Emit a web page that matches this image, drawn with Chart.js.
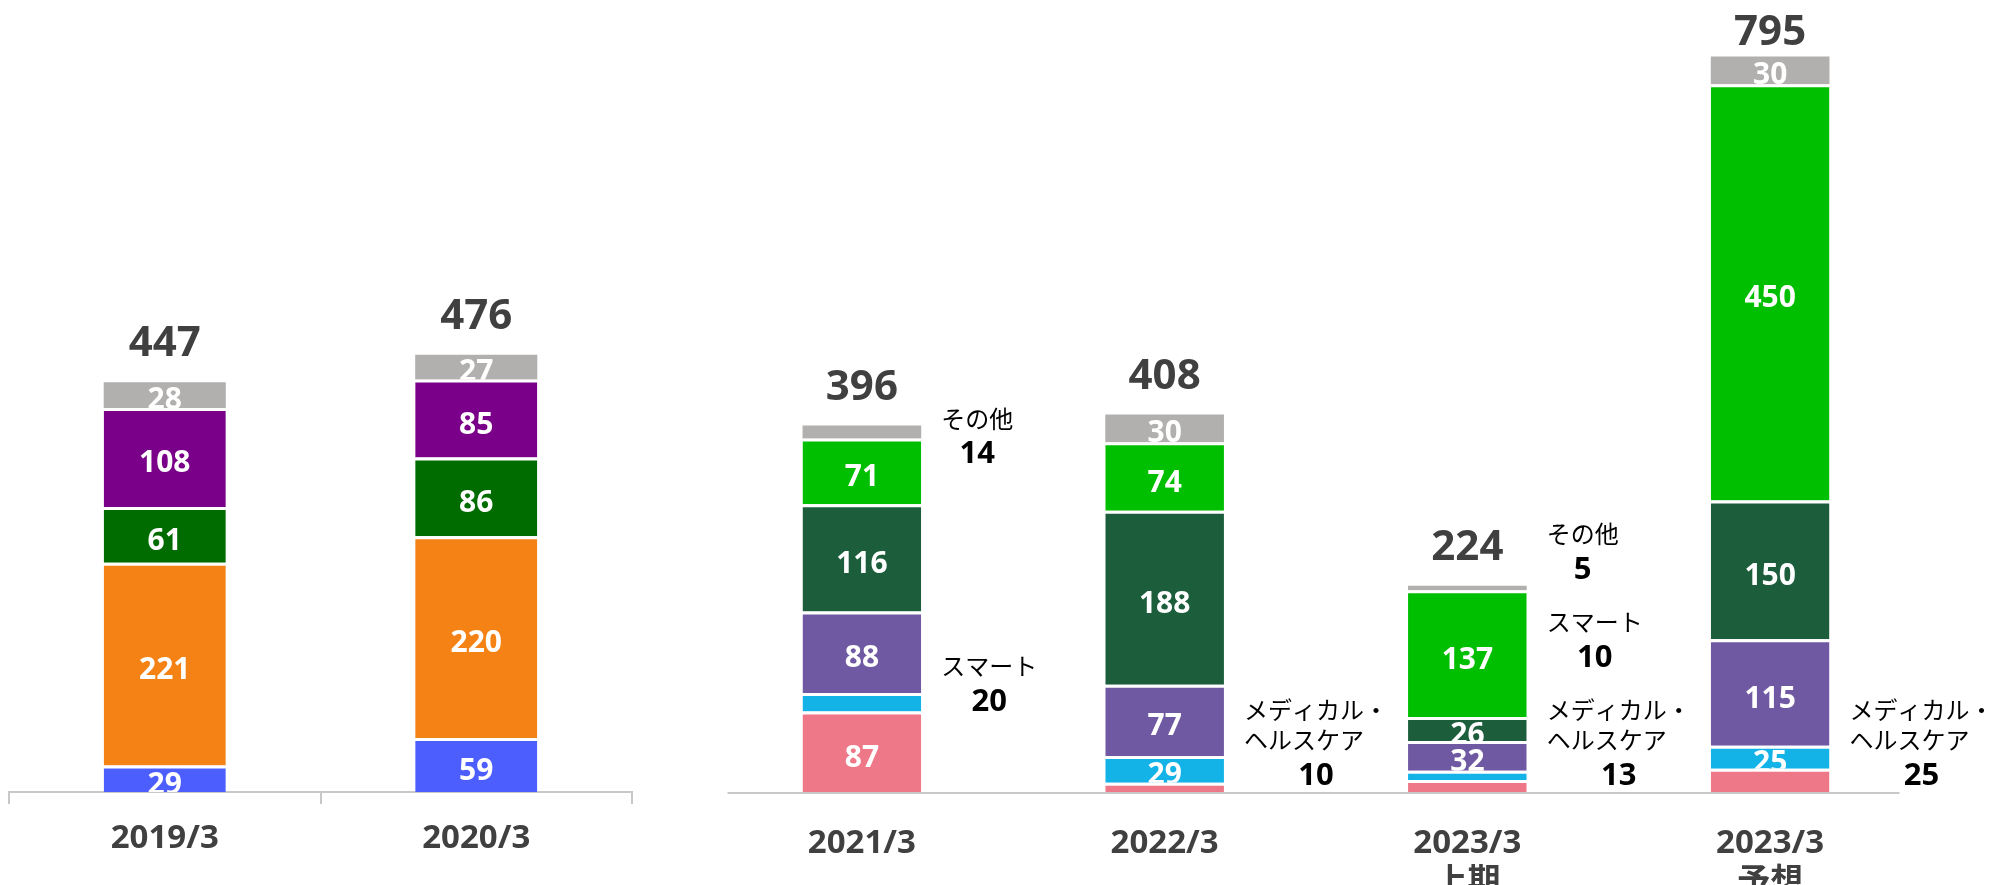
<!DOCTYPE html>
<html lang="ja">
<head>
<meta charset="utf-8">
<script src="https://cdn.jsdelivr.net/npm/chart.js@4.4.0/dist/chart.umd.min.js"></script>
<style>
  html, body { margin: 0; padding: 0; background: #fff; }
  body { width: 1995px; height: 885px; position: relative; overflow: hidden; }
  #left { position: absolute; left: 0; top: 0; }
  #right { position: absolute; left: 660px; top: 0; }
</style>
</head>
<body>
<canvas id="left" width="660" height="885"></canvas>
<canvas id="right" width="1335" height="885"></canvas>
<script>
// 2019/3 - 2020/3 (old segments)
const leftYears = ['2019/3', '2020/3'];
const leftBlue = [29, 59];
const leftOrange = [221, 220];
const leftGreen = [61, 86];
const leftPurple = [108, 85];
const leftOther = [28, 27];
const leftTotals = [447, 476];

// 2021/3 onward (new segments)
const rightYears = [['2021/3'], ['2022/3'], ['2023/3', '上期'], ['2023/3', '予想']];
const medical = [87, 10, 13, 25];
const smart = [20, 29, 10, 25];
const rightPurple = [88, 77, 32, 115];
const rightDarkGreen = [116, 188, 26, 150];
const rightGreen = [71, 74, 137, 450];
const rightOther = [14, 30, 5, 30];
const rightTotals = [396, 408, 224, 795];

// segments that are labelled beside the bar instead of inside it
const medicalOutside = [false, true, true, true];
const smartOutside = [true, false, true, false];
const otherOutside = [true, false, true, false];

const FONT = "'Noto Sans', 'Noto Sans CJK JP', sans-serif";
const JP = "'Noto Sans CJK JP', sans-serif";
const GAP = {top: 3, left: 0, right: 0, bottom: 0};

function seg(label, data, color, extra) {
  return Object.assign({
    label: label,
    data: data,
    backgroundColor: color,
    borderColor: '#fff',
    borderWidth: GAP,
    borderSkipped: false
  }, extra || {});
}

const stackLabels = {
  id: 'stackLabels',
  beforeDatasetsDraw(chart, args, opts) {
    if (!opts.baseline) return;
    const ctx = chart.ctx;
    const a = chart.chartArea;
    const y0 = chart.scales.y.getPixelForValue(0) + 1;
    ctx.save();
    ctx.strokeStyle = '#c8c8c8';
    ctx.lineWidth = 2;
    ctx.beginPath();
    ctx.moveTo(a.left + 17, y0);
    ctx.lineTo(a.right - 22, y0);
    ctx.stroke();
    ctx.restore();
  },
  afterDatasetsDraw(chart, args, opts) {
    const ctx = chart.ctx;
    const metas = chart.getSortedVisibleDatasetMetas();
    const n = chart.data.labels.length;
    ctx.save();

    // values inside the segments
    metas.forEach(meta => {
      const ds = chart.data.datasets[meta.index];
      const bw = (ds.borderWidth && ds.borderWidth.top) || 0;
      meta.data.forEach((bar, i) => {
        if (ds.outside && ds.outside[i]) return;
        const top = bar.y + bw, bottom = bar.base;
        if (bottom - top < 2) return;
        ctx.save();
        ctx.beginPath();
        ctx.rect(bar.x - bar.width / 2, top, bar.width, bottom - top);
        ctx.clip();
        ctx.fillStyle = '#fff';
        ctx.font = 'bold 30px ' + FONT;
        ctx.textAlign = 'center';
        ctx.textBaseline = 'middle';
        ctx.fillText(ds.data[i], bar.x, (top + bottom) / 2 + 5);
        ctx.restore();
      });
    });

    // totals above the stacks
    for (let i = 0; i < n; i++) {
      let top = Infinity, x = 0;
      metas.forEach(meta => {
        const bar = meta.data[i];
        if (bar.y < top) { top = bar.y; x = bar.x; }
      });
      const gap = Math.min(26, top - 45);
      ctx.fillStyle = '#404040';
      ctx.font = 'bold 42px ' + FONT;
      ctx.textAlign = 'center';
      ctx.textBaseline = 'alphabetic';
      ctx.fillText(opts.totals[i], x, top - gap);
    }

    // callouts beside the bars, stacked upwards from the axis
    const axisY = chart.scales.y.getPixelForValue(0);
    const lastIndex = metas.length - 1;
    for (let i = 0; i < n; i++) {
      let limit = axisY - 16;
      metas.forEach((meta, m) => {
        const ds = chart.data.datasets[meta.index];
        if (!ds.outside || !ds.outside[i]) return;
        const bar = meta.data[i];
        // the top segment's callout hangs just below it, the others sit level with it
        const anchor = m === lastIndex ? bar.base + 16 : (bar.y + bar.base) / 2;
        const vy = Math.min(anchor, limit);
        const names = ds.calloutName;
        ctx.font = '24px ' + JP;
        const w = Math.max(...names.map(s => ctx.measureText(s).width));
        const left = bar.x + bar.width / 2 + 20;
        ctx.fillStyle = '#000';
        ctx.textAlign = 'left';
        ctx.textBaseline = 'middle';
        names.forEach((s, k) => {
          ctx.fillText(s, left, vy - 36 - (names.length - 1 - k) * 30);
        });
        ctx.font = 'bold 31px ' + FONT;
        ctx.textAlign = 'center';
        ctx.fillText(ds.data[i], left + w / 2, vy);
        limit = vy - 36 - (names.length - 1) * 30 - 52;
      });
    }
    ctx.restore();
  }
};

function baseOptions(max, padding, totals, xExtra, baseline) {
  return {
    responsive: false,
    animation: false,
    layout: { padding: padding },
    plugins: {
      legend: { display: false },
      tooltip: { enabled: false },
      stackLabels: { totals: totals, baseline: baseline }
    },
    datasets: {
      bar: { barPercentage: 0.392, categoryPercentage: 1 }
    },
    scales: {
      y: { stacked: true, display: false, min: 0, max: max },
      x: Object.assign({
        stacked: true,
        afterFit: scale => { scale.height = 93; }
      }, xExtra)
    }
  };
}

const tickFont = { family: FONT, size: 33, weight: 'bold', lineHeight: 1.18 };

new Chart(document.getElementById('left'), {
  type: 'bar',
  data: {
    labels: leftYears,
    datasets: [
      seg('blue', leftBlue, '#4d5eff'),
      seg('orange', leftOrange, '#f58215'),
      seg('green', leftGreen, '#006c00'),
      seg('purple', leftPurple, '#7a0089'),
      seg('その他', leftOther, '#b1b0ae', { borderWidth: 0 })
    ]
  },
  options: baseOptions(864, { left: 9, right: 28, top: 0, bottom: 0 }, leftTotals, {
    grid: {
      display: true, offset: true, drawOnChartArea: false, drawTicks: true,
      tickLength: 12, color: '#c8c8c8', lineWidth: 2
    },
    border: { display: true, color: '#c8c8c8', width: 2 },
    ticks: { color: '#404040', padding: 15, font: tickFont, maxRotation: 0, autoSkip: false }
  }, false),
  plugins: [stackLabels]
});

new Chart(document.getElementById('right'), {
  type: 'bar',
  data: {
    labels: rightYears,
    datasets: [
      seg('メディカル・ヘルスケア', medical, '#ee7788',
          { outside: medicalOutside, calloutName: ['メディカル・', 'ヘルスケア'] }),
      seg('スマート', smart, '#13b3e8',
          { outside: smartOutside, calloutName: ['スマート'] }),
      seg('purple', rightPurple, '#7059a3'),
      seg('darkGreen', rightDarkGreen, '#1c5e3c'),
      seg('green', rightGreen, '#00be00'),
      seg('その他', rightOther, '#b1b0ae',
          { borderWidth: 0, outside: otherOutside, calloutName: ['その他'] })
    ]
  },
  options: baseOptions(856, { left: 50.5, right: 73.5, top: 0, bottom: 0 }, rightTotals, {
    grid: { display: false },
    border: { display: false },
    ticks: { color: '#404040', padding: 24, font: tickFont, maxRotation: 0, autoSkip: false }
  }, true),
  plugins: [stackLabels]
});
</script>
</body>
</html>
